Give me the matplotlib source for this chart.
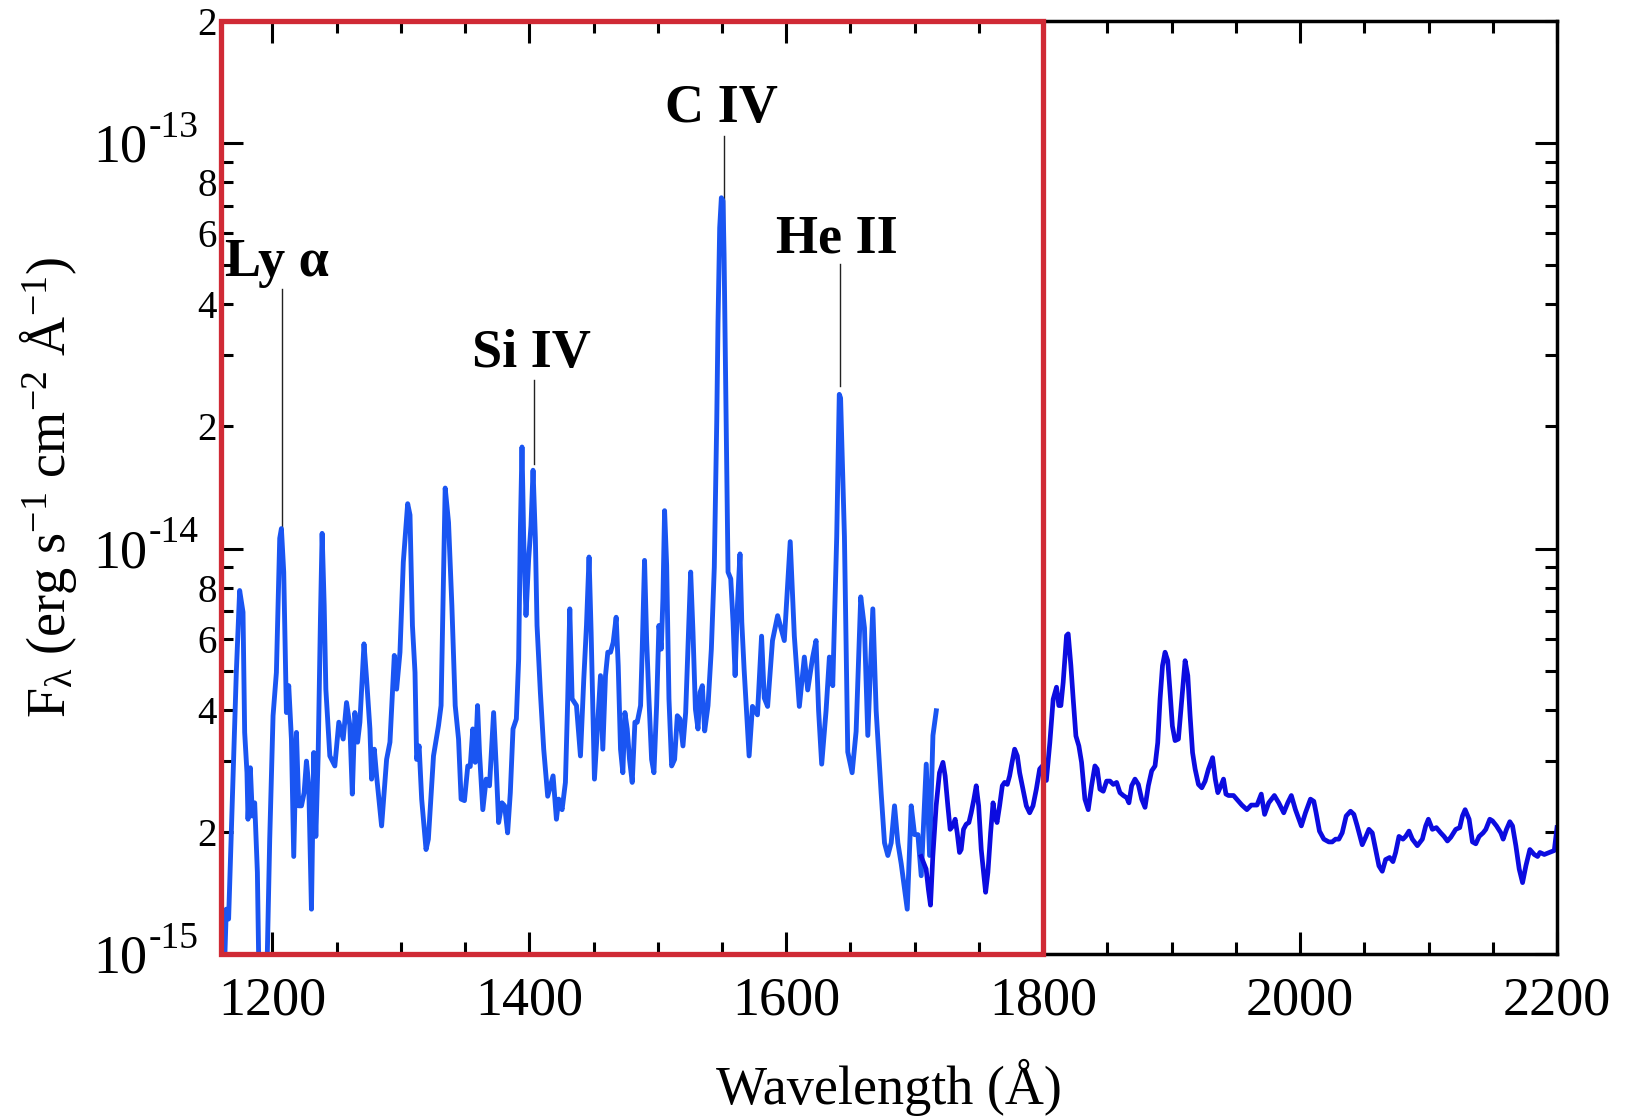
import numpy as np
import matplotlib
matplotlib.use("Agg")
import matplotlib.pyplot as plt
from matplotlib.patches import Rectangle
from matplotlib.ticker import FixedLocator, FixedFormatter, NullFormatter

plt.rcParams['font.family'] = ['Liberation Serif', 'DejaVu Serif']
plt.rcParams['mathtext.fontset'] = 'custom'
plt.rcParams['mathtext.rm'] = 'Liberation Serif'
plt.rcParams['mathtext.it'] = 'Liberation Serif:italic'
plt.rcParams['mathtext.bf'] = 'Liberation Serif:bold'

# FUV spectrum (light blue), flux in units of 1e-15 erg/s/cm2/A
wave_fuv = [1160.5, 1162.8, 1164.1, 1165.9, 1168.0, 1171.9, 1174.5, 1177.1, 1178.4, 1180.2,
            1181.0, 1182.8, 1184.4, 1186.2, 1188.3, 1190.0, 1195.0, 1197.9, 1200.5, 1203.1,
            1205.7, 1207.0, 1208.8, 1210.9, 1212.7, 1214.8, 1216.6, 1218.7, 1220.5, 1222.6,
            1224.7, 1226.5, 1228.3, 1230.4, 1232.2, 1233.8, 1235.6, 1237.4, 1238.7, 1240.3,
            1241.6, 1244.7, 1248.6, 1251.7, 1255.1, 1257.7, 1260.3, 1262.2, 1264.2, 1266.3,
            1268.1, 1271.3, 1273.3, 1275.9, 1277.2, 1279.3, 1281.1, 1285.0, 1288.9, 1291.5,
            1294.9, 1296.7, 1299.3, 1301.9, 1305.3, 1307.1, 1309.0, 1311.0, 1312.3, 1314.2,
            1316.2, 1319.6, 1321.4, 1325.4, 1329.3, 1331.3, 1334.5, 1337.1, 1339.7, 1342.3,
            1344.9, 1346.9, 1349.5, 1352.1, 1354.0, 1356.0, 1357.9, 1359.7, 1361.2, 1363.8,
            1366.4, 1369.0, 1372.2, 1374.2, 1376.1, 1378.7, 1380.8, 1383.1, 1385.2, 1387.3,
            1389.9, 1391.7, 1393.0, 1394.3, 1395.6, 1397.4, 1399.5, 1401.3, 1402.9, 1404.7,
            1406.0, 1408.6, 1411.2, 1414.3, 1418.5, 1421.1, 1422.9, 1425.5, 1428.1, 1429.9,
            1431.5, 1433.3, 1436.7, 1439.8, 1442.4, 1444.5, 1446.5, 1448.1, 1450.7, 1453.6,
            1455.4, 1457.2, 1459.3, 1461.1, 1463.2, 1465.3, 1467.6, 1469.2, 1471.0, 1472.8,
            1474.4, 1476.2, 1478.0, 1480.1, 1482.2, 1484.0, 1486.6, 1487.9, 1489.7, 1491.3,
            1493.1, 1495.2, 1497.0, 1499.1, 1500.9, 1502.7, 1504.0, 1505.3, 1506.9, 1508.7,
            1510.8, 1513.1, 1515.2, 1517.3, 1519.6, 1521.7, 1523.5, 1525.6, 1527.4, 1529.3,
            1531.3, 1532.9, 1534.7, 1536.5, 1539.1, 1541.7, 1544.0, 1545.9, 1546.9, 1548.2,
            1549.5, 1550.8, 1551.6, 1552.6, 1553.7, 1554.7, 1556.8, 1558.6, 1560.2, 1562.0,
            1564.0, 1565.4, 1567.2, 1571.1, 1573.7, 1577.6, 1580.8, 1582.9, 1585.5, 1589.3,
            1593.3, 1595.9, 1598.5, 1603.1, 1606.3, 1610.2, 1614.1, 1616.7, 1620.6, 1623.2,
            1625.2, 1627.6, 1631.0, 1633.6, 1636.2, 1639.3, 1641.3, 1642.3, 1645.3, 1647.9,
            1651.3, 1654.4, 1658.0, 1660.9, 1663.5, 1667.4, 1670.0, 1673.9, 1676.5, 1679.1,
            1681.7, 1684.3, 1686.9, 1689.5, 1694.2, 1697.3, 1699.9, 1702.5, 1705.1, 1709.0,
            1711.6, 1714.2, 1716.8]
flux_fuv = [1.30, 0.95, 1.29, 1.22, 1.99, 4.95, 7.88, 6.97, 3.52, 2.80,
            2.15, 2.88, 2.19, 2.36, 1.59, 0.70, 0.70, 1.92, 3.87, 4.95,
            10.6, 11.2, 8.75, 3.94, 4.59, 3.39, 1.74, 3.52, 2.32, 2.32,
            2.50, 2.99, 2.60, 1.29, 3.14, 1.95, 3.08, 6.71, 10.9, 7.24,
            4.50, 3.08, 2.91, 3.73, 3.39, 4.17, 3.66, 2.48, 3.94, 3.33,
            3.73, 5.82, 4.77, 3.59, 2.70, 3.20, 2.75, 2.07, 3.02, 3.33,
            5.45, 4.50, 5.55, 9.26, 12.9, 12.1, 6.46, 4.95, 3.02, 3.26,
            2.41, 1.81, 1.92, 3.08, 3.66, 4.10, 14.1, 11.6, 7.24, 4.10,
            3.39, 2.41, 2.39, 2.91, 2.90, 3.59, 2.97, 4.10, 3.14, 2.27,
            2.70, 2.60, 3.94, 2.91, 2.11, 2.36, 2.32, 1.99, 2.50, 3.59,
            3.80, 5.34, 11.0, 17.8, 10.6, 6.84, 9.44, 11.4, 15.6, 10.6,
            6.46, 4.42, 3.20, 2.45, 2.75, 2.15, 2.41, 2.27, 2.65, 4.26,
            7.10, 4.26, 4.10, 3.08, 4.77, 6.46, 9.53, 6.22, 2.70, 3.87,
            4.86, 3.20, 4.86, 5.55, 5.55, 5.87, 6.77, 5.14, 3.20, 2.80,
            3.94, 3.59, 3.02, 2.65, 3.73, 3.73, 4.10, 5.65, 9.35, 5.98,
            4.26, 3.02, 2.80, 4.10, 6.46, 5.65, 7.52, 12.4, 9.09, 4.26,
            2.91, 3.02, 3.87, 3.80, 3.26, 3.94, 5.65, 8.75, 6.22, 4.02,
            3.59, 4.42, 4.59, 3.55, 4.10, 5.65, 9.00, 20.6, 36.3, 61.8,
            73.3, 72.0, 53.1, 30.0, 15.5, 8.75, 8.42, 6.58, 4.86, 7.24,
            9.70, 6.58, 5.04, 3.08, 4.08, 3.89, 6.08, 4.28, 4.08, 5.93,
            6.83, 6.37, 5.93, 10.4, 6.08, 4.08, 5.40, 4.48, 5.40, 5.93,
            3.98, 2.94, 3.98, 5.40, 4.59, 10.7, 24.0, 23.5, 10.7, 3.15,
            2.80, 3.54, 7.60, 6.37, 3.46, 7.10, 3.98, 2.49, 1.88, 1.75,
            1.88, 2.32, 1.88, 1.67, 1.29, 2.32, 1.97, 1.97, 1.56, 2.94,
            1.75, 3.46, 3.98]

# NUV spectrum (dark blue)
wave_nuv = [1705.0, 1708.9, 1710.7, 1712.3, 1714.1, 1716.7, 1719.3, 1722.0, 1723.7, 1725.8,
            1727.6, 1729.7, 1731.5, 1733.1, 1734.9, 1736.2, 1738.0, 1740.1, 1742.2, 1744.0,
            1746.1, 1747.9, 1749.8, 1751.8, 1753.9, 1755.2, 1757.0, 1759.1, 1761.0, 1762.2,
            1764.1, 1766.1, 1768.2, 1770.0, 1772.1, 1773.9, 1775.8, 1777.8, 1779.9, 1781.7,
            1784.3, 1786.9, 1789.5, 1792.1, 1794.7, 1797.3, 1799.4, 1802.5, 1805.2, 1807.8,
            1810.4, 1812.2, 1813.8, 1815.6, 1818.2, 1819.5, 1821.6, 1823.4, 1825.5, 1827.8,
            1829.9, 1832.5, 1835.1, 1837.7, 1840.3, 1842.1, 1844.2, 1846.8, 1849.4, 1852.0,
            1854.6, 1857.2, 1859.8, 1862.4, 1865.0, 1866.8, 1868.9, 1871.5, 1874.1, 1876.7,
            1879.3, 1881.9, 1884.5, 1887.1, 1889.2, 1891.0, 1892.9, 1894.9, 1897.0, 1898.8,
            1900.6, 1902.7, 1905.3, 1907.9, 1910.5, 1912.6, 1914.4, 1916.3, 1918.3, 1920.9,
            1923.5, 1926.1, 1928.7, 1931.9, 1934.0, 1936.0, 1938.4, 1940.4, 1942.3, 1944.3,
            1948.2, 1952.1, 1954.7, 1958.6, 1962.0, 1966.5, 1969.8, 1972.4, 1975.6, 1980.0,
            1983.4, 1987.3, 1990.4, 1993.2, 1996.4, 2001.0, 2004.2, 2008.1, 2010.7, 2012.5,
            2015.1, 2018.5, 2022.4, 2025.0, 2027.6, 2030.2, 2032.8, 2035.9, 2039.3, 2041.9,
            2044.5, 2048.4, 2051.0, 2053.6, 2056.2, 2058.8, 2061.4, 2064.0, 2066.6, 2069.7,
            2072.3, 2074.4, 2077.0, 2080.1, 2082.2, 2084.8, 2087.4, 2091.3, 2095.2, 2097.8,
            2099.9, 2103.0, 2106.1, 2109.5, 2112.1, 2114.7, 2117.3, 2121.2, 2124.3, 2126.4,
            2128.5, 2131.6, 2134.2, 2136.8, 2139.4, 2142.5, 2144.6, 2147.7, 2149.8, 2152.9,
            2156.3, 2158.1, 2160.7, 2163.3, 2165.4, 2168.0, 2170.6, 2173.2, 2175.8, 2178.9,
            2182.3, 2184.9, 2186.7, 2190.1, 2194.0, 2197.9, 2200.0]
flux_nuv = [1.74, 1.62, 1.44, 1.32, 1.74, 2.32, 2.80, 2.97, 2.75, 2.32,
            2.03, 2.07, 2.15, 1.99, 1.78, 1.81, 2.03, 2.09, 2.11, 2.23,
            2.41, 2.60, 2.32, 1.81, 1.56, 1.42, 1.59, 1.99, 2.36, 2.21,
            2.11, 2.32, 2.60, 2.65, 2.62, 2.75, 2.97, 3.20, 3.08, 2.80,
            2.55, 2.32, 2.23, 2.32, 2.55, 2.86, 2.91, 2.68, 3.32, 4.25,
            4.55, 4.10, 4.10, 4.68, 6.10, 6.16, 5.14, 4.25, 3.45, 3.26,
            2.97, 2.41, 2.27, 2.60, 2.91, 2.86, 2.55, 2.52, 2.67, 2.67,
            2.62, 2.65, 2.50, 2.46, 2.43, 2.36, 2.60, 2.70, 2.62, 2.41,
            2.30, 2.60, 2.83, 2.91, 3.32, 4.25, 5.14, 5.55, 5.29, 4.42,
            3.65, 3.36, 3.39, 4.25, 5.29, 4.86, 3.87, 3.14, 2.86, 2.62,
            2.57, 2.67, 2.86, 3.05, 2.70, 2.50, 2.60, 2.70, 2.48, 2.46,
            2.46, 2.38, 2.33, 2.27, 2.33, 2.33, 2.48, 2.21, 2.36, 2.46,
            2.36, 2.23, 2.36, 2.46, 2.27, 2.07, 2.23, 2.41, 2.38, 2.23,
            2.01, 1.92, 1.89, 1.89, 1.92, 1.92, 1.99, 2.19, 2.25, 2.21,
            2.07, 1.86, 1.94, 2.03, 1.99, 1.81, 1.65, 1.60, 1.71, 1.73,
            1.69, 1.78, 1.95, 1.92, 1.95, 2.01, 1.92, 1.85, 1.92, 2.07,
            2.15, 2.03, 2.05, 1.99, 1.95, 1.90, 1.94, 2.03, 2.05, 2.19,
            2.27, 2.15, 1.89, 1.87, 1.95, 1.99, 2.03, 2.15, 2.13, 2.07,
            1.99, 1.92, 2.03, 2.12, 2.07, 1.85, 1.62, 1.50, 1.65, 1.81,
            1.76, 1.74, 1.78, 1.76, 1.78, 1.80, 2.05]

# emission line marks
line_names = ['Ly α', 'Si IV', 'C IV', 'He II']
line_wave = [1207.3, 1403.9, 1551.5, 1642.1]
line_top = [43.6, 26.1, 104.0, 50.3]
line_bottom = [8.8, 16.2, 50.0, 25.1]
name_wave = [1203.2, 1401.3, 1549.4, 1639.6]
name_flux = [46.9, 28.0, 112.6, 53.7]

xmajor = [1200, 1400, 1600, 1800, 2000, 2200]
xminor = list(range(1200, 2201, 50))
ydecades = [1e-15, 1e-14, 1e-13]
ydecade_exp = ['-15', '-14', '-13']
yminor = [m * d for d in ydecades for m in range(2, 10)][:17]
yminor_labels = ['2', '', '4', '', '6', '', '8', ''] * 2 + ['2']

scale = 1e-15

fig = plt.figure(figsize=(16.3, 11.17), dpi=100)
ax = fig.add_axes([0.1356, 0.1459, 0.8196, 0.8353])

ax.plot(wave_fuv, np.array(flux_fuv) * scale, color='#1a55f2', lw=3.5, zorder=2)
ax.plot(wave_nuv, np.array(flux_nuv) * scale, color='#0c0ce0', lw=3.4, zorder=2.1)

ax.set_yscale('log')
ax.set_xlim(1160, 2200)
ax.set_ylim(1e-15, 2e-13)

ax.xaxis.set_major_locator(FixedLocator(xmajor))
ax.xaxis.set_minor_locator(FixedLocator(xminor))
ax.yaxis.set_major_locator(FixedLocator(ydecades))
ax.yaxis.set_major_formatter(NullFormatter())
ax.yaxis.set_minor_locator(FixedLocator(yminor))
ax.yaxis.set_minor_formatter(FixedFormatter(yminor_labels))

ax.tick_params(which='both', direction='in', top=True, right=True, width=2.2, color='black')
ax.tick_params(which='major', length=16)
ax.tick_params(which='minor', length=8.5)
ax.tick_params(axis='x', which='major', labelsize=39, pad=16)
ax.tick_params(axis='y', which='minor', labelsize=28, pad=3)
for sp in ax.spines.values():
    sp.set_linewidth(2.5)

# decade labels written as 10 with a raised exponent
for d, e in zip(ydecades, ydecade_exp):
    ax.annotate('10', xy=(0, d), xycoords=('axes fraction', 'data'), xytext=(-53.3, -13.3),
                textcoords='offset points', ha='right', va='baseline', fontsize=39,
                annotation_clip=False)
    ax.annotate(e, xy=(0, d), xycoords=('axes fraction', 'data'), xytext=(-52.0, 4.7),
                textcoords='offset points', ha='left', va='baseline', fontsize=27,
                annotation_clip=False)

ax.set_xlabel('Wavelength (Å)', fontsize=39)
ax.xaxis.set_label_coords(0.5, -0.1608)
ax.xaxis.label.set_va('baseline')
ax.set_ylabel(r'F$_\mathregular{\lambda}$ (erg s$^\mathregular{-1}$ cm$^\mathregular{-2}$ Å$^\mathregular{-1}$)',
              fontsize=39)
ax.yaxis.set_label_coords(-0.117, 0.5)
ax.yaxis.label.set_va('baseline')

for w, t, b in zip(line_wave, line_top, line_bottom):
    ax.plot([w, w], [b * scale, t * scale], color='#222222', lw=1.0, zorder=1.5)
for name, w, f in zip(line_names, name_wave, name_flux):
    ax.text(w, f * scale, name, ha='center', va='baseline', fontsize=39, fontweight='bold')

ax.add_patch(Rectangle((1160, 1e-15), 640, 2e-13 - 1e-15, fill=False, ec='#d02a35',
                       lw=3.8, zorder=4, clip_on=False))

fig.savefig('out.png', dpi=100)
